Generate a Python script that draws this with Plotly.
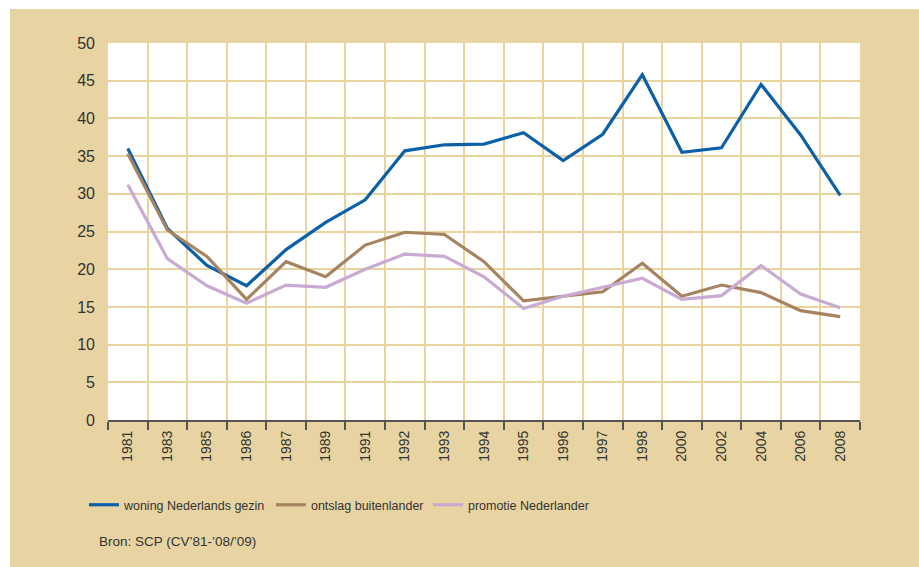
import plotly.graph_objects as go

years = ["1981", "1983", "1985", "1986", "1987", "1989", "1991", "1992", "1993", "1994",
         "1995", "1996", "1997", "1998", "2000", "2002", "2004", "2006", "2008"]
woning = [36.0, 25.4, 20.5, 17.8, 22.6, 26.2, 29.2, 35.7, 36.5, 36.6,
          38.1, 34.4, 37.9, 45.8, 35.5, 36.1, 44.5, 37.8, 29.8]
ontslag = [35.3, 25.2, 21.7, 16.0, 21.0, 19.0, 23.2, 24.9, 24.6, 21.0,
           15.8, 16.4, 17.0, 20.8, 16.4, 17.9, 16.9, 14.5, 13.7]
promotie = [31.2, 21.4, 17.8, 15.5, 17.9, 17.6, 20.0, 22.0, 21.7, 19.0,
            14.8, 16.4, 17.6, 18.8, 16.0, 16.5, 20.5, 16.7, 14.9]
names = ["woning Nederlands gezin", "ontslag buitenlander", "promotie Nederlander"]
colors = ["#0B60A8", "#A7845F", "#C9AAD2"]
yticks = [0, 5, 10, 15, 20, 25, 30, 35, 40, 45, 50]

TAN = "#E8D3A2"
GRID = "#E9D39E"
PW, PH = 752, 377

fig = go.Figure()
for vals, name, col, lw in zip([woning, ontslag, promotie], names, colors, [142, 112, None]):
    fig.add_trace(go.Scatter(
        x=years, y=vals, mode="lines", name=name,
        line=dict(color=col, width=3.2), legendwidth=lw,
    ))

fig.update_layout(
    width=919, height=567,
    margin=dict(l=108, r=59, t=43, b=147),
    paper_bgcolor=TAN, plot_bgcolor="white",
    font=dict(family="Liberation Sans, Arial, sans-serif", color="#333333"),
    showlegend=True,
    legend=dict(
        orientation="h", x=-0.032, xanchor="left", y=-0.186, yanchor="top",
        bgcolor="rgba(0,0,0,0)",
        font=dict(family="Liberation Sans, Arial, sans-serif", size=12.5, color="#333333"),
        tracegroupgap=0,
    ),
    xaxis=dict(
        type="category", categoryorder="array", categoryarray=years,
        tickson="boundaries", showgrid=True, gridcolor=GRID, gridwidth=2,
        ticks="outside", ticklen=8, tickwidth=2, tickcolor="#555555",
        showline=True, linecolor="#555555", linewidth=2,
        tickangle=-90, tickfont=dict(size=14, color="#333333"),
        ticklabelstandoff=3,
        range=[-0.5, 18.5], zeroline=False,
    ),
    yaxis=dict(
        range=[0, 50], tickvals=yticks, showgrid=True, gridcolor=GRID, gridwidth=2,
        zeroline=False, showline=False, ticks="", ticklabelstandoff=12,
        tickfont=dict(size=16, color="#333333"),
    ),
    shapes=[
        dict(type="rect", xref="paper", yref="paper",
             x0=-108/PW, x1=1+59/PW, y0=1+34/PH, y1=1+43/PH,
             fillcolor="white", line=dict(width=0), layer="below"),
        dict(type="rect", xref="paper", yref="paper",
             x0=-108/PW, x1=-98/PW, y0=-147/PH, y1=1+43/PH,
             fillcolor="white", line=dict(width=0), layer="below"),
    ],
    annotations=[dict(text="Bron: SCP (CV’81-’08/’09)", xref="paper", yref="paper",
                      x=-11/PW, y=-121/PH, xanchor="left", yanchor="middle", showarrow=False,
                      font=dict(family="Liberation Sans, Arial, sans-serif", size=13.5, color="#333333"))],
)

fig.write_html("out.html", config={"displayModeBar": False},
               post_script="document.body.style.margin='0';document.body.style.padding='0';")
